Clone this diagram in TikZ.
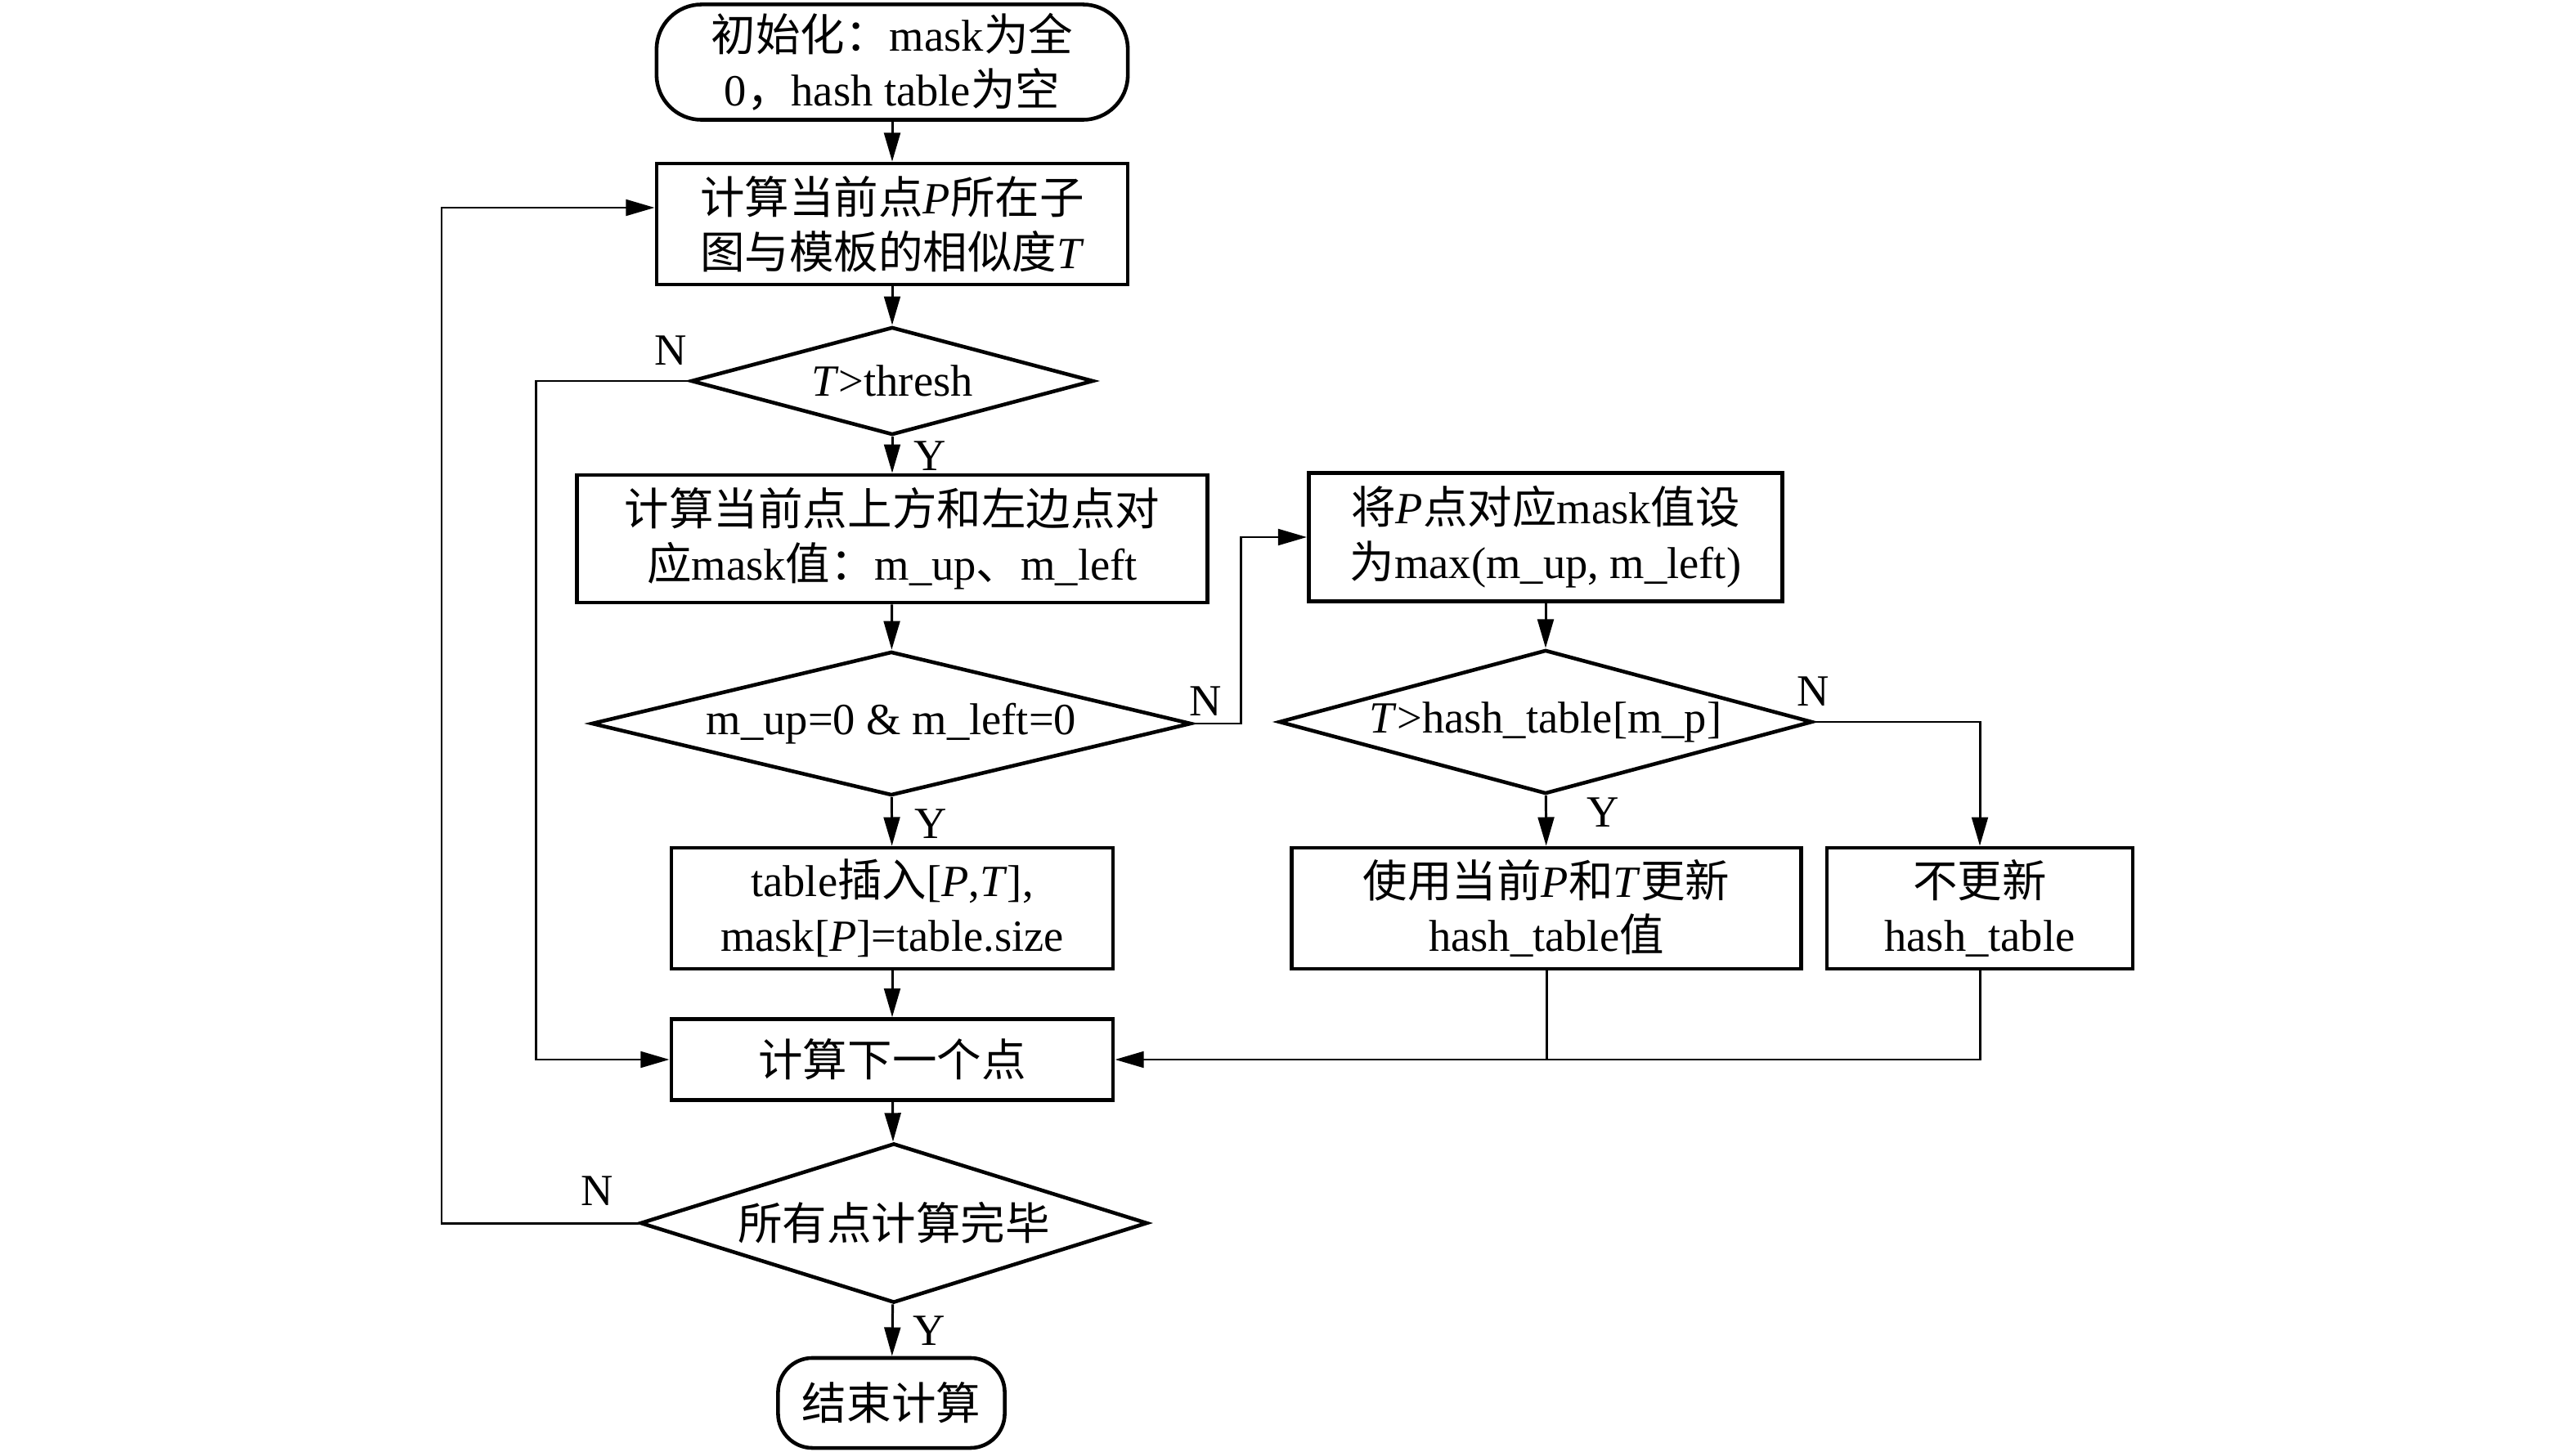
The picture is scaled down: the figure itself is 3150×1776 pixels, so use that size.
\documentclass[tikz,border=0pt]{standalone}
\usepackage{fontspec}
\setmainfont{Liberation Serif}
\newfontfamily\cjk{Noto Sans CJK SC}
\newcommand\zh[1]{{\cjk #1}}
\usetikzlibrary{shapes.geometric,arrows.meta}
\begin{document}
\begin{tikzpicture}[x=0.01cm,y=-0.01cm,
  every node/.style={font=\fontsize{15.5}{19}\selectfont, align=center},
  box/.style={draw, line width=1.3pt, inner sep=0pt},
  proc/.style={box, rectangle},
  term/.style={box, rectangle, rounded corners=0.55cm},
  dec/.style={box, diamond},
  arr/.style={line width=0.85pt, -{Triangle[length=10pt,width=5.6pt]}},
  conn/.style={line width=0.85pt},
  lab/.style={inner sep=0pt}]
\useasboundingbox (0,0) rectangle (3150,1776);

\node[term, minimum width=5.76cm, minimum height=1.41cm] (start) at (1091,76)
  {\zh{初始化：}mask\zh{为全}\\0\zh{，}hash table\zh{为空}};
\node[proc, minimum width=5.76cm, minimum height=1.48cm] (calc) at (1091,274)
  {\zh{计算当前点}\textit{P}\zh{所在子}\\\zh{图与模板的相似度}\textit{T}};
\node[dec, shape aspect=3.73, minimum width=4.92cm, minimum height=1.32cm] (d1) at (1091,466)
  {\textit{T}>thresh};
\node[proc, minimum width=7.70cm, minimum height=1.56cm] (nb) at (1091,659)
  {\zh{计算当前点上方和左边点对}\\\zh{应}mask\zh{值：}m\_up\zh{、}m\_left};
\node[dec, shape aspect=4.26, minimum width=7.33cm, minimum height=1.76cm] (d2) at (1090,885)
  {m\_up=0 \& m\_left=0};
\node[proc, minimum width=5.40cm, minimum height=1.48cm] (ins) at (1091,1111)
  {table\zh{插入}[\textit{P},\textit{T}],\\mask[\textit{P}]=table.size};
\node[proc, minimum width=5.40cm, minimum height=0.99cm] (next) at (1091,1296)
  {\zh{计算下一个点}};
\node[dec, shape aspect=3.19, minimum width=6.20cm, minimum height=1.95cm] (d3) at (1093,1496)
  {\zh{所有点计算完毕}};
\node[term, rounded corners=0.42cm, minimum width=2.77cm, minimum height=1.10cm] (end) at (1090,1716)
  {\zh{结束计算}};

\node[proc, minimum width=5.79cm, minimum height=1.57cm] (setm) at (1890,657)
  {\zh{将}\textit{P}\zh{点对应}mask\zh{值设}\\\zh{为}max(m\_up, m\_left)};
\node[dec, shape aspect=3.77, minimum width=6.52cm, minimum height=1.76cm] (d4) at (1890,883)
  {\textit{T}>hash\_table[m\_p]};
\node[proc, minimum width=6.23cm, minimum height=1.48cm] (upd) at (1891,1111)
  {\zh{使用当前}\textit{P}\zh{和}\textit{T}\zh{更新}\\hash\_table\zh{值}};
\node[proc, minimum width=3.74cm, minimum height=1.48cm] (noup) at (2421,1111)
  {\zh{不更新}\\hash\_table};

\coordinate (c1) at (655,0);
\coordinate (c2) at (1517,0);
\coordinate (c3) at (540,254);

\draw[arr] (start) -- (calc);
\draw[arr] (calc) -- (d1);
\draw[arr] (d1) -- (nb);
\draw[arr] (nb) -- (d2);
\draw[arr] (d2) -- (ins);
\draw[arr] (ins) -- (next);
\draw[arr] (next) -- (d3);
\draw[arr] (d3) -- (end);
\draw[arr] (setm) -- (d4);
\draw[arr] (d4) -- (upd);

\draw[arr] (d1.west) -- (d1.west -| c1) |- (next.west);
\draw[arr] (d2.east) -- (d2.east -| c2) |- (setm.west);
\draw[arr] (d4.east) -| (noup.north);
\draw[conn] (noup.south) |- (upd.south |- next.east);
\draw[arr] (upd.south) |- (next.east);
\draw[arr] (d3.west) -| (c3) -- (calc.west |- c3);

\node[lab] (n1) at (820,429) {N};
\node[lab] (y1) at (1137,558) {Y};
\node[lab] (n2) at (1474,858) {N};
\node[lab] (y2) at (1138,1008) {Y};
\node[lab] (n4) at (2217,846) {N};
\node[lab] (y4) at (1960,994) {Y};
\node[lab] (n3) at (730,1457) {N};
\node[lab] (y3) at (1136,1628) {Y};
\end{tikzpicture}
\end{document}
